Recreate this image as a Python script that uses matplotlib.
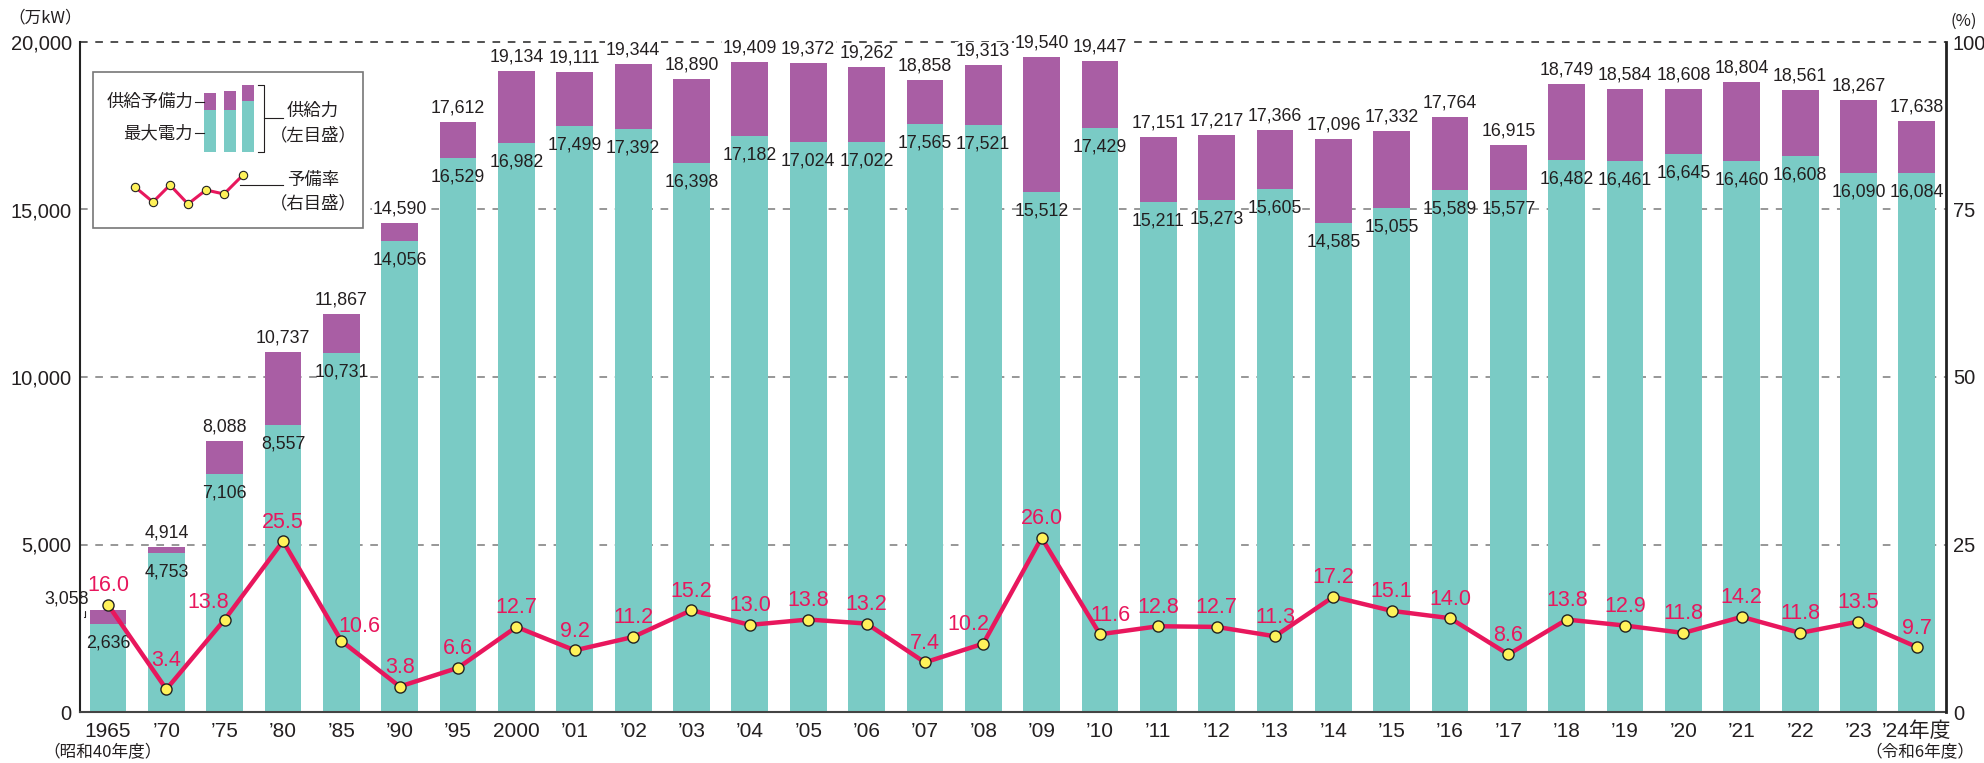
import numpy as np
import matplotlib
matplotlib.use('Agg')
import matplotlib.pyplot as plt
from matplotlib import font_manager
from matplotlib.patches import Rectangle

# data (万kW, %)
years = ['1965', '’70', '’75', '’80', '’85', '’90', '’95', '2000',
         '’01', '’02', '’03', '’04', '’05', '’06', '’07', '’08', '’09', '’10',
         '’11', '’12', '’13', '’14', '’15', '’16', '’17', '’18', '’19', '’20',
         '’21', '’22', '’23', '’24年度']
supply = [3058, 4914, 8088, 10737, 11867, 14590, 17612, 19134,
          19111, 19344, 18890, 19409, 19372, 19262, 18858, 19313, 19540, 19447,
          17151, 17217, 17366, 17096, 17332, 17764, 16915, 18749, 18584, 18608,
          18804, 18561, 18267, 17638]
peak = [2636, 4753, 7106, 8557, 10731, 14056, 16529, 16982,
        17499, 17392, 16398, 17182, 17024, 17022, 17565, 17521, 15512, 17429,
        15211, 15273, 15605, 14585, 15055, 15589, 15577, 16482, 16461, 16645,
        16460, 16608, 16090, 16084]
reserve_rate = [16.0, 3.4, 13.8, 25.5, 10.6, 3.8, 6.6, 12.7,
                9.2, 11.2, 15.2, 13.0, 13.8, 13.2, 7.4, 10.2, 26.0, 11.6,
                12.8, 12.7, 11.3, 17.2, 15.1, 14.0, 8.6, 13.8, 12.9, 11.8,
                14.2, 11.8, 13.5, 9.7]

TEAL = '#7ACBC5'
PURPLE = '#A95EA4'
RED = '#E8175D'
YELLOW = '#FFF25A'
TXT = '#231F20'

plt.rcParams['font.family'] = ['Liberation Sans', 'Noto Sans CJK JP']
JP = ['Noto Sans CJK JP', 'DejaVu Sans']

# narrow face for the bar values if one is installed
installed = {f.name for f in font_manager.fontManager.ttflist}
if 'Liberation Sans Narrow' in installed:
    num_font, num_size = 'Liberation Sans Narrow', 14
elif 'DejaVu Sans Condensed' in installed:
    num_font, num_size = 'DejaVu Sans Condensed', 12.5
else:
    num_font, num_size = 'Liberation Sans', 12.8

W, H = 1984, 763
fig = plt.figure(figsize=(W / 100, H / 100), dpi=100)
ax = fig.add_axes([80 / W, 51 / H, 1866 / W, 670 / H])

x = np.arange(len(years))
bw = 0.63
supply_a = np.array(supply)
peak_a = np.array(peak)

ax.bar(x, peak_a, bw, color=TEAL, zorder=2)
ax.bar(x, supply_a - peak_a, bw, bottom=peak_a, color=PURPLE, zorder=2)

ax.set_xlim(-0.48, len(years) - 0.5)
ax.set_ylim(0, 20000)

for v in [5000, 10000, 15000]:
    ax.axhline(v, color='#7a7a7a', lw=1.1, ls=(0, (5, 5)), zorder=1)
ax.axhline(20000, color='#222222', lw=1.1, ls=(0, (5, 5)), zorder=1, clip_on=False)

ax.spines['top'].set_visible(False)
ax.spines['right'].set_visible(False)
ax.spines['left'].set_linewidth(1.5)
ax.spines['left'].set_color('#222222')
ax.spines['bottom'].set_linewidth(1.5)
ax.spines['bottom'].set_color('#444444')

ax.set_yticks([0, 5000, 10000, 15000, 20000])
ax.set_yticklabels([f'{v:,}' for v in [0, 5000, 10000, 15000, 20000]])
ax.tick_params(axis='y', length=0, pad=6, labelsize=14.5, labelcolor=TXT)
ax.set_xticks(x)
ax.set_xticklabels(years)
ax.tick_params(axis='x', length=0, pad=7, labelsize=15, labelcolor=TXT)

# value labels
top_box = dict(boxstyle='square,pad=0.05', facecolor='white', edgecolor='none')
for i in range(len(x)):
    if i == 0:
        ax.annotate(f'{supply[i]:,}', xy=(x[i] - bw / 2 - 0.1, (supply[i] + peak[i]) / 2),
                    xytext=(-17, 18), textcoords='offset pixels', ha='center', va='center',
                    fontsize=num_size, family=num_font, color=TXT,
                    arrowprops=dict(arrowstyle='-', color=TXT, lw=0.8, relpos=(0.9, 0.0),
                                    shrinkA=1, shrinkB=0,
                                    connectionstyle='angle,angleA=90,angleB=0,rad=0'))
    else:
        ax.annotate(f'{supply[i]:,}', (x[i], supply[i]), xytext=(0, 14),
                    textcoords='offset pixels', ha='center', va='center',
                    fontsize=num_size, family=num_font, color=TXT, zorder=4,
                    bbox=top_box)
    ax.annotate(f'{peak[i]:,}', (x[i], peak[i]), xytext=(0, -19),
                textcoords='offset pixels', ha='center', va='center',
                fontsize=num_size, family=num_font, color=TXT, zorder=4)

# reserve rate on right axis
ax2 = ax.twinx()
ax2.set_ylim(0, 100)
ax2.set_yticks([0, 25, 50, 75, 100])
ax2.tick_params(axis='y', length=0, pad=5, labelsize=14.5, labelcolor=TXT)
for s in ['top', 'left', 'bottom']:
    ax2.spines[s].set_visible(False)
ax2.spines['right'].set_linewidth(2)
ax2.spines['right'].set_color('#222222')

ax2.plot(x, reserve_rate, color=RED, lw=3.2, marker='o', ms=8, mfc=YELLOW,
         mec='#222222', mew=1, zorder=5, solid_joinstyle='round')

label_shift = {1: (0, 29), 2: (-17, 17), 4: (18, 14), 15: (-15, 19), 17: (10, 19)}
for i, r in enumerate(reserve_rate):
    dx, dy = label_shift.get(i, (0, 19))
    ax2.annotate(f'{r:.1f}', (x[i], r), xytext=(dx, dy), textcoords='offset pixels',
                 ha='center', va='center', fontsize=15.5, color=RED, zorder=6)

# units and era notes
fig.text(45 / W, 1 - 18 / H, '（万kW）', ha='center', va='center', fontsize=12,
         family=JP, color=TXT)
fig.text(1964 / W, 1 - 21 / H, '(%)', ha='center', va='center', fontsize=12,
         family=JP, color=TXT)
xt = ax.get_xaxis_transform()
ax.text(x[0] - 0.1, -0.061, '（昭和40年度）', transform=xt, ha='center', va='center',
        fontsize=12, family=JP, color=TXT)
ax.text(x[-1] + 0.05, -0.061, '（令和6年度）', transform=xt, ha='center', va='center',
        fontsize=12, family=JP, color=TXT)

# legend box (drawn in pixel coordinates)
lax = fig.add_axes([0, 0, 1, 1], zorder=10)
lax.set_xlim(0, W)
lax.set_ylim(H, 0)
lax.axis('off')
lax.patch.set_visible(False)

lax.add_patch(Rectangle((93, 72), 270, 156, facecolor='white', edgecolor='#777777', lw=1.2))
sample_bars = [(204, 93, 110), (224, 91, 110), (242, 85, 101)]
for bx, top, mid in sample_bars:
    lax.add_patch(Rectangle((bx, mid), 12, 152 - mid, facecolor=TEAL, edgecolor='none'))
    lax.add_patch(Rectangle((bx, top), 12, mid - top, facecolor=PURPLE, edgecolor='none'))
lax.text(193, 102, '供給予備力', ha='right', va='center', fontsize=12.5, family=JP, color=TXT)
lax.text(193, 133, '最大電力', ha='right', va='center', fontsize=12.5, family=JP, color=TXT)
lax.plot([195, 204], [102, 102], color=TXT, lw=0.8)
lax.plot([195, 204], [133, 133], color=TXT, lw=0.8)
lax.plot([258, 264, 264, 258], [85, 85, 152, 152], color=TXT, lw=0.8)
lax.plot([264, 283], [118, 118], color=TXT, lw=0.8)
lax.text(313, 111, '供給力', ha='center', va='center', fontsize=12.5, family=JP, color=TXT)
lax.text(313, 135, '（左目盛）', ha='center', va='center', fontsize=12.5, family=JP, color=TXT)

sample_x = [135, 153, 170, 188, 206, 224, 243]
sample_y = [187, 202, 185, 204, 190, 194, 175]
lax.plot([240, 283], [185, 185], color=TXT, lw=0.8)
lax.plot(sample_x, sample_y, color=RED, lw=2.2, marker='o', ms=6, mfc=YELLOW,
         mec='#222222', mew=0.8)
lax.text(313, 180, '予備率', ha='center', va='center', fontsize=12.5, family=JP, color=TXT)
lax.text(313, 203, '（右目盛）', ha='center', va='center', fontsize=12.5, family=JP, color=TXT)

fig.savefig('out.png', dpi=100, facecolor='white')
